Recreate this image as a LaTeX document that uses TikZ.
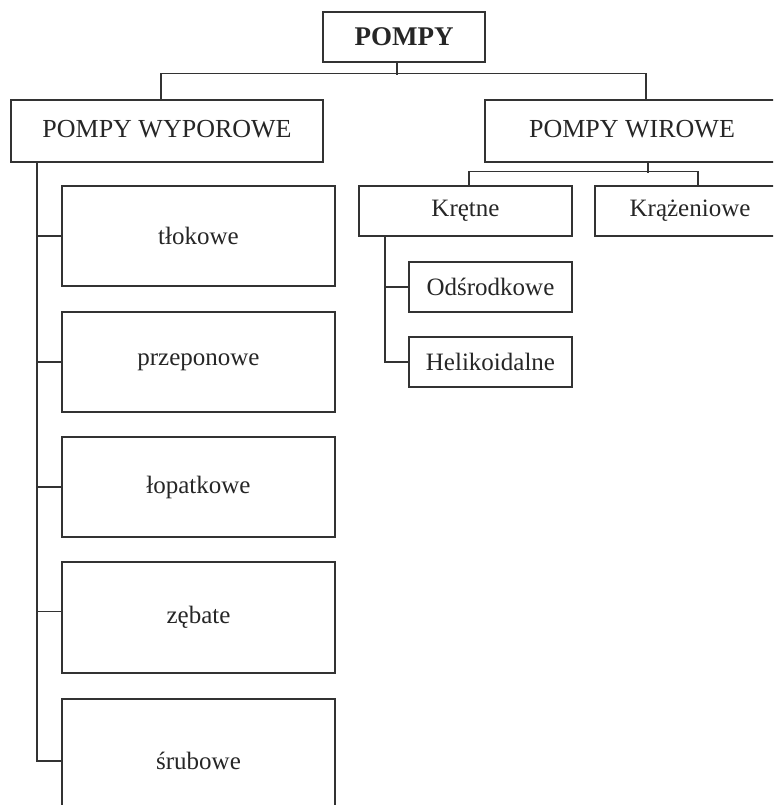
\documentclass[tikz,border=0pt]{standalone}
\usepackage{fontspec}
\setmainfont{Liberation Serif}
\begin{document}
\begin{tikzpicture}[x=1pt,y=-1pt,
  box/.style={draw=black!80, line width=1.1pt, inner sep=0pt, text=black!85},
  big/.style={box, font=\fontsize{26}{30}\selectfont},
  small/.style={box, font=\fontsize{25}{29}\selectfont},
  conn/.style={draw=black!80, line width=1.2pt}]
\path[use as bounding box, clip] (0,0) rectangle (773,805);

\node[box, font=\fontsize{27}{31}\selectfont\bfseries, minimum width=162pt, minimum height=50pt] (pompy) at (404,37) {POMPY};
\node[big, minimum width=312pt, minimum height=62pt] (wyp) at (167,131) {\raisebox{5pt}{POMPY WYPOROWE}};
\node[big, minimum width=294pt, minimum height=62pt] (wir) at (632,131) {\raisebox{5pt}{POMPY WIROWE}};

\node[small, minimum width=213pt, minimum height=50pt] (kre) at (465.5,211) {Krętne};
\node[small, minimum width=190pt, minimum height=50pt] (kra) at (690,211) {Krążeniowe};
\node[small, minimum width=163pt, minimum height=50pt] (ods) at (490.5,287) {Odśrodkowe};
\node[small, minimum width=163pt, minimum height=50pt] (hel) at (490.5,362) {Helikoidalne};

\node[small, minimum width=273pt, minimum height=100pt] (tlo) at (198.5,236) {tłokowe};
\node[small, minimum width=273pt, minimum height=100pt] (prz) at (198.5,362) {przeponowe};
\node[small, minimum width=273pt, minimum height=100pt] (lop) at (198.5,487) {łopatkowe};
\node[small, minimum width=273pt, minimum height=111pt] (zeb) at (198.5,617.5) {zębate};
\node[small, minimum width=273pt, minimum height=124pt] (sru) at (198.5,761) {śrubowe};

% top level connectors
\draw[conn] ([xshift=-7pt]pompy.south) -- ++(0,12);
\draw[conn] ([xshift=-6pt]wyp.north) -- ++(0,-26) -| ([xshift=14pt]wir.north);

% wirowe connectors
\draw[conn] ([xshift=16pt]wir.south) -- ++(0,10);
\draw[conn] ([xshift=3.5pt]kre.north) -- ++(0,-14) -| ([xshift=8pt]kra.north);

% kretne connectors
\coordinate (t2) at ([xshift=-80.5pt]kre.south);
\draw[conn] (t2) |- (hel.west);
\draw[conn] (t2 |- ods.west) -- (ods.west);

% wyporowe connectors
\coordinate (t1) at ([xshift=-130pt]wyp.south);
\draw[conn] (t1) |- (sru.west);
\draw[conn] (t1 |- tlo.west) -- (tlo.west);
\draw[conn] (t1 |- prz.west) -- (prz.west);
\draw[conn] (t1 |- lop.west) -- (lop.west);
\draw[conn] ([yshift=6pt]zeb.west -| t1) -- ([yshift=6pt]zeb.west);
\end{tikzpicture}
\end{document}
